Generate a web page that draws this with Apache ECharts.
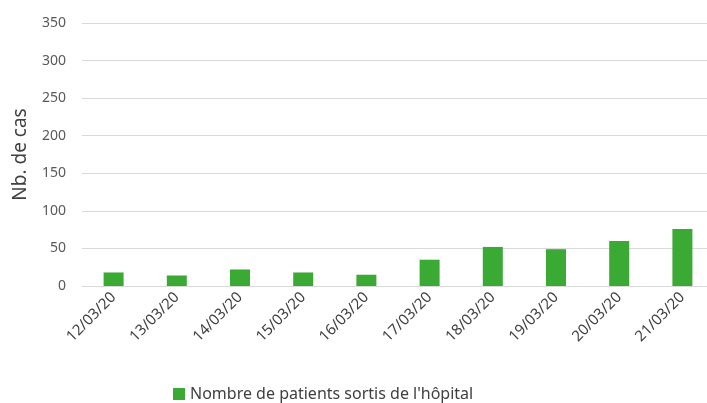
<!DOCTYPE html>
<html>
<head>
<meta charset="utf-8">
<script src="https://cdn.jsdelivr.net/npm/echarts@6/dist/echarts.min.js"></script>
<style>
  html, body { margin: 0; padding: 0; background: #fff; }
  #chart { width: 707px; height: 403px; }
</style>
</head>
<body>
<div id="chart"></div>
<script>
// dates (categories)
const dates = ['12/03/20', '13/03/20', '14/03/20', '15/03/20', '16/03/20',
  '17/03/20', '18/03/20', '19/03/20', '20/03/20', '21/03/20'];
// nombre de patients sortis de l'hôpital
const sortis = [18, 14, 22, 18, 15, 35, 52, 49, 60, 76];
const seriesName = "Nombre de patients sortis de l'hôpital";
const yName = 'Nb. de cas';

const font = 'Noto Sans';
const chart = echarts.init(document.getElementById('chart'));
const option = {
  animation: false,
  textStyle: { fontFamily: font },
  grid: { left: 82, top: 23, width: 632, height: 263, outerBoundsMode: 'none' },
  legend: {
    data: [seriesName],
    left: 168,
    top: 381,
    itemWidth: 12,
    itemHeight: 12,
    itemGap: 5,
    icon: 'rect',
    textStyle: { fontSize: 16, color: '#404040', fontFamily: font }
  },
  xAxis: {
    type: 'category',
    data: dates,
    axisLine: { lineStyle: { color: '#d9d9d9' } },
    axisTick: { show: false },
    axisLabel: { rotate: 45, fontSize: 15, color: '#404040', margin: 9 }
  },
  yAxis: {
    type: 'value',
    min: 0,
    max: 350,
    interval: 50,
    name: yName,
    nameLocation: 'middle',
    nameGap: 52,
    nameTextStyle: { fontSize: 19, color: '#404040' },
    axisLine: { show: false },
    axisTick: { show: false },
    axisLabel: { fontSize: 14, color: '#595959', margin: 16 },
    splitLine: { lineStyle: { color: '#d9d9d9', width: 1 } }
  },
  series: [{
    name: seriesName,
    type: 'bar',
    data: sortis,
    barWidth: 20,
    itemStyle: { color: '#3aaa35' }
  }]
};
chart.setOption(option);
</script>
</body>
</html>
